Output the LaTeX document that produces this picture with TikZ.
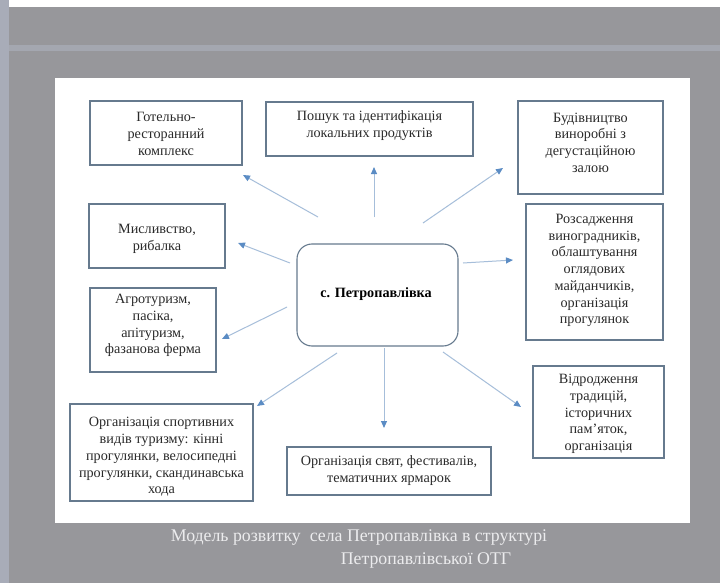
\documentclass[tikz,border=0pt]{standalone}
\usepackage{fontspec}
\setmainfont{Liberation Serif}
\usetikzlibrary{arrows.meta}
\definecolor{bggray}{HTML}{97979B}
\definecolor{stripblue}{HTML}{A8ACB8}
\definecolor{bandgray}{HTML}{A4A7B0}
\definecolor{boxline}{HTML}{667A8E}
\definecolor{txt}{HTML}{2A2A2A}
\definecolor{arrline}{HTML}{A6BEDA}
\definecolor{arrhead}{HTML}{5B8CC4}
\definecolor{captxt}{HTML}{ECECEE}
\tikzset{
  x=1pt, y=-1pt,
  box/.style={draw=boxline, line width=1.1pt, fill=white, inner sep=0pt},
  boxtext/.style={text=txt, align=center, inner sep=0pt, font=\fontsize{14.2}{16.7}\selectfont},
  hub/.style={box, rounded corners=15pt},
  arr/.style={draw=arrline, line width=1pt, -{Triangle[length=7pt,width=6pt,color=arrhead]}},
  captext/.style={text=captxt, font=\fontsize{17.8}{22}\selectfont, inner sep=0pt}
}
\begin{document}
\begin{tikzpicture}
\useasboundingbox (0,0) rectangle (720,583);
% background
\fill[bggray] (0,0) rectangle (720,583);
\fill[white] (8,0) rectangle (720,7);
\fill[bandgray] (8,45) rectangle (720,51);
\fill[stripblue] (0,0) rectangle (9,583);
\fill[white] (55,78) rectangle (690,523);
% boxes
\node[box, minimum width=152pt, minimum height=64pt] (hotel) at (166,133) {};
\node[boxtext] (hotel-t) at (166,134) {Готельно-\\ресторанний\\комплекс};
\node[box, minimum width=207pt, minimum height=54pt] (search) at (369.5,129) {};
\node[boxtext] (search-t) at (369.5,125.5) {Пошук та ідентифікація\\локальних продуктів};
\node[box, minimum width=145pt, minimum height=93pt] (winery) at (590.5,147.5) {};
\node[boxtext] (winery-t) at (590.5,142.5) {Будівництво\\виноробні з\\дегустаційною\\залою};
\node[box, minimum width=136pt, minimum height=64pt] (hunt) at (157,236) {};
\node[boxtext] (hunt-t) at (157,239) {Мисливство,\\рибалка};
\node[box, minimum width=137pt, minimum height=136pt] (vine) at (594.5,272) {};
\node[boxtext] (vine-t) at (594.5,270.5) {Розсадження\\виноградників,\\облаштування\\оглядових\\майданчиків,\\організація\\прогулянок};
\node[box, minimum width=126pt, minimum height=84pt] (agro) at (153,330) {};
\node[boxtext] (agro-t) at (153,325.5) {Агротуризм,\\пасіка,\\апітуризм,\\фазанова ферма};
\node[box, minimum width=183pt, minimum height=97pt] (sport) at (161.5,452.5) {};
\node[boxtext] (sport-t) at (161.5,457) {Організація спортивних\\видів туризму: кінні\\прогулянки, велосипедні\\прогулянки, скандинавська\\хода};
\node[box, minimum width=204pt, minimum height=48pt] (fest) at (389,471) {};
\node[boxtext] (fest-t) at (389,470.5) {Організація свят, фестивалів,\\тематичних ярмарок};
\node[box, minimum width=131pt, minimum height=92pt] (trad) at (598.5,412) {};
\node[boxtext] (trad-t) at (598.5,414) {Відродження\\традицій,\\історичних\\пам’яток,\\організація};
\node[hub, minimum width=161pt, minimum height=102pt] (hub) at (377.5,295) {};
\node[boxtext, font=\fontsize{14.2}{16.7}\selectfont\bfseries, text=black] (hub-t) at (376,294) {с. Петропавлівка};
% arrow ends
\coordinate (s1) at (318,217); \coordinate (t1) at (243,175);
\coordinate (s2) at (374,217); \coordinate (t2) at (374,167);
\coordinate (s3) at (423,223); \coordinate (t3) at (503,168);
\coordinate (s4) at (290,263); \coordinate (t4) at (238,243);
\coordinate (s5) at (463,263); \coordinate (t5) at (513,260);
\coordinate (s6) at (287,307); \coordinate (t6) at (222,339);
\coordinate (s7) at (337,353); \coordinate (t7) at (257,406);
\coordinate (s8) at (384,348); \coordinate (t8) at (384,428);
\coordinate (s9) at (443,352); \coordinate (t9) at (521,407);
\draw[arr] (s1) -- (t1);
\draw[arr] (s2) -- (t2);
\draw[arr] (s3) -- (t3);
\draw[arr] (s4) -- (t4);
\draw[arr] (s5) -- (t5);
\draw[arr] (s6) -- (t6);
\draw[arr] (s7) -- (t7);
\draw[arr] (s8) -- (t8);
\draw[arr] (s9) -- (t9);
% caption
\node[captext] (cap1) at (359,538) {Модель розвитку\ \ села Петропавлівка в структурі};
\node[captext] (cap2) at (426,560) {Петропавлівської ОТГ};
\end{tikzpicture}
\end{document}
